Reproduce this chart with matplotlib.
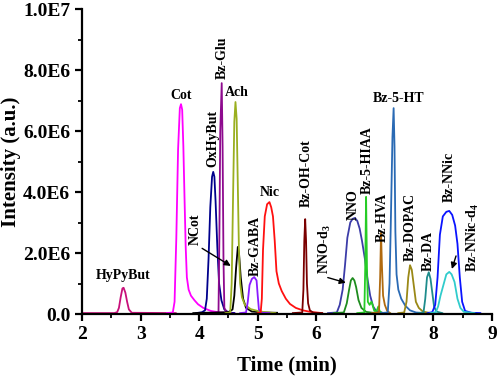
#                               IMPORT LIBRARIES
import matplotlib
matplotlib.use("Agg")
import matplotlib.pyplot as plt
from matplotlib.ticker import MultipleLocator, FuncFormatter

plt.rcParams['font.family'] = 'Liberation Serif'
plt.rcParams['font.weight'] = 'bold'
plt.rcParams['mathtext.fontset'] = 'custom'
plt.rcParams['mathtext.rm'] = 'Liberation Serif:bold'
plt.rcParams['mathtext.bf'] = 'Liberation Serif:bold'
plt.rcParams['mathtext.default'] = 'rm'

#                               DATA (time in min, intensity in 1E6)
HyPyBut_t = [2.0, 2.55, 2.60, 2.63, 2.66, 2.69, 2.71, 2.74, 2.77, 2.80, 2.85, 3.6]
HyPyBut_y = [0.03, 0.03, 0.06, 0.2, 0.55, 0.84, 0.86, 0.7, 0.4, 0.15, 0.04, 0.03]

Cot_t = [3.45, 3.55, 3.58, 3.61, 3.64, 3.67, 3.69, 3.71, 3.73, 3.75, 3.77, 3.79, 3.82, 3.86,
         3.92, 3.98, 4.07, 4.2, 4.35, 4.6]
Cot_y = [0.03, 0.05, 0.4, 2.5, 5.4, 6.75, 6.88, 6.7, 5.5, 3.8, 2.2, 1.2, 0.8, 0.6,
         0.45, 0.32, 0.2, 0.1, 0.05, 0.03]

OxHyBut_t = [3.95, 4.05, 4.10, 4.13, 4.16, 4.19, 4.22, 4.24, 4.26, 4.28, 4.31, 4.34, 4.38, 4.43, 4.5, 4.6]
OxHyBut_y = [0.03, 0.06, 0.12, 0.5, 1.8, 3.5, 4.5, 4.66, 4.5, 3.7, 2.2, 1.0, 0.45, 0.15, 0.05, 0.03]

BzGlu_t = [4.25, 4.33, 4.345, 4.36, 4.385, 4.40, 4.415, 4.43, 4.47, 4.55]
BzGlu_y = [0.03, 0.05, 2.5, 6.0, 7.57, 5.5, 1.8, 0.2, 0.05, 0.03]

Ach_t = [4.45, 4.53, 4.555, 4.58, 4.60, 4.62, 4.64, 4.66, 4.68, 4.70, 4.73, 4.78, 4.88, 5.0, 5.12, 5.3]
Ach_y = [0.03, 0.05, 1.0, 4.0, 6.3, 6.95, 6.4, 4.2, 2.0, 1.0, 0.55, 0.3, 0.16, 0.1, 0.06, 0.03]

NCot_t = [3.9, 4.3, 4.5, 4.57, 4.60, 4.63, 4.66, 4.68, 4.71, 4.75, 4.80, 4.9, 5.1, 5.33]
NCot_y = [0.03, 0.05, 0.06, 0.15, 0.6, 1.5, 2.2, 2.0, 1.2, 0.5, 0.2, 0.08, 0.05, 0.04]

BzGABA_t = [4.7, 4.80, 4.83, 4.86, 4.90, 4.94, 4.98, 5.00, 5.02, 5.06, 5.2]
BzGABA_y = [0.03, 0.05, 0.4, 0.95, 1.15, 1.21, 1.1, 0.6, 0.15, 0.04, 0.03]

Nic_t = [5.0, 5.05, 5.07, 5.09, 5.12, 5.16, 5.20, 5.23, 5.26, 5.29, 5.32, 5.36, 5.41, 5.48,
         5.55, 5.65, 5.77, 5.9, 6.1]
Nic_y = [0.03, 0.05, 0.5, 2.1, 3.2, 3.6, 3.67, 3.5, 3.2, 2.4, 1.4, 1.0, 0.75, 0.5,
         0.33, 0.2, 0.12, 0.07, 0.03]

BzOHCot_t = [5.6, 5.76, 5.78, 5.795, 5.81, 5.825, 5.84, 5.86, 5.89, 5.95, 6.1]
BzOHCot_y = [0.03, 0.05, 0.8, 2.4, 3.11, 2.4, 1.0, 0.35, 0.12, 0.04, 0.03]

NNO_t = [6.2, 6.35, 6.40, 6.45, 6.49, 6.53, 6.58, 6.62, 6.66, 6.70, 6.74, 6.78, 6.83, 6.87,
         6.92, 6.97, 7.02, 7.15]
NNO_y = [0.03, 0.05, 0.3, 0.8, 1.6, 2.5, 3.0, 3.12, 3.15, 3.05, 2.8, 2.4, 1.8, 1.2,
         0.6, 0.25, 0.1, 0.03]

NNOd3_t = [6.3, 6.47, 6.52, 6.56, 6.59, 6.62, 6.65, 6.68, 6.72, 6.77, 6.85, 7.0]
NNOd3_y = [0.03, 0.05, 0.35, 0.8, 1.1, 1.18, 1.1, 0.88, 0.46, 0.2, 0.07, 0.03]

BzHIAA_t = [6.7, 6.82, 6.835, 6.85, 6.865, 6.88, 6.91, 6.94, 6.96, 6.99, 7.03, 7.06, 7.08, 7.12, 7.25]
BzHIAA_y = [0.03, 0.05, 1.5, 3.84, 1.5, 0.4, 0.3, 0.4, 0.3, 0.1, 0.1, 0.25, 0.1, 0.03, 0.03]

BzHVA_t = [6.95, 7.07, 7.09, 7.105, 7.12, 7.14, 7.17, 7.21, 7.26]
BzHVA_y = [0.03, 0.05, 1.2, 2.66, 1.6, 0.6, 0.3, 0.1, 0.03]

BzHT_t = [7.1, 7.22, 7.25, 7.27, 7.30, 7.32, 7.335, 7.35, 7.37, 7.40, 7.45, 7.52, 7.6, 7.7, 7.85]
BzHT_y = [0.03, 0.05, 1.0, 2.8, 5.8, 6.75, 5.5, 2.7, 1.3, 0.8, 0.5, 0.27, 0.12, 0.05, 0.03]

BzDOPAC_t = [7.4, 7.50, 7.54, 7.57, 7.60, 7.63, 7.66, 7.70, 7.75, 7.82, 7.95]
BzDOPAC_y = [0.03, 0.05, 0.4, 1.2, 1.6, 1.45, 1.0, 0.4, 0.2, 0.08, 0.03]

BzDA_t = [7.75, 7.83, 7.86, 7.89, 7.92, 7.95, 7.98, 8.01, 8.05, 8.15]
BzDA_y = [0.03, 0.05, 0.5, 1.2, 1.37, 1.15, 0.7, 0.25, 0.08, 0.03]

BzNNic_t = [7.9, 7.98, 8.03, 8.07, 8.11, 8.16, 8.22, 8.27, 8.32, 8.37, 8.41, 8.45, 8.49, 8.54, 8.65, 8.8]
BzNNic_y = [0.03, 0.06, 0.3, 1.2, 2.6, 3.2, 3.35, 3.38, 3.25, 2.9, 2.3, 1.2, 0.4, 0.1, 0.04, 0.03]

BzNNicd4_t = [7.95, 8.04, 8.08, 8.12, 8.17, 8.22, 8.27, 8.31, 8.36, 8.41, 8.46, 8.52, 8.7]
BzNNicd4_y = [0.03, 0.06, 0.25, 0.6, 0.95, 1.3, 1.38, 1.3, 1.05, 0.5, 0.2, 0.07, 0.03]

traces = [
    (HyPyBut_t, HyPyBut_y, '#C8107A'),
    (Cot_t, Cot_y, '#FF00FF'),
    (OxHyBut_t, OxHyBut_y, '#00008C'),
    (BzGlu_t, BzGlu_y, '#8E0A8E'),
    (NCot_t, NCot_y, '#000000'),
    (Ach_t, Ach_y, '#9AAF1F'),
    (BzGABA_t, BzGABA_y, '#8A1AFF'),
    (Nic_t, Nic_y, '#FF1010'),
    (BzOHCot_t, BzOHCot_y, '#7A0000'),
    (NNO_t, NNO_y, '#3C3CA8'),
    (NNOd3_t, NNOd3_y, '#1E8C1E'),
    (BzHIAA_t, BzHIAA_y, '#26CC26'),
    (BzHVA_t, BzHVA_y, '#B06A10'),
    (BzHT_t, BzHT_y, '#2A6AB4'),
    (BzDOPAC_t, BzDOPAC_y, '#9A8816'),
    (BzDA_t, BzDA_y, '#1E8C8C'),
    (BzNNic_t, BzNNic_y, '#0A14FF'),
    (BzNNicd4_t, BzNNicd4_y, '#30CCCC'),
]

# labels: (text, time, intensity(1E6), rotation)
labels = [
    ('HyPyBut', 2.71, 1.26, 0),
    ('Cot', 3.69, 7.15, 0),
    ('Ach', 4.65, 7.25, 0),
    ('Nic', 5.21, 4.0, 0),
    ('Bz-5-HT', 7.40, 7.05, 0),
    ('OxHyBut', 4.24, 5.74, 90),
    ('Bz-Glu', 4.39, 8.39, 90),
    ('NCot', 3.93, 2.79, 90),
    ('Bz-GABA', 4.95, 2.23, 90),
    ('Bz-OH-Cot', 5.83, 4.62, 90),
    ('NNO-d$_3$', 6.15, 2.13, 90),
    ('NNO', 6.63, 3.6, 90),
    ('Bz-5-HIAA', 6.87, 5.05, 90),
    ('Bz-HVA', 7.12, 3.15, 90),
    ('Bz-DOPAC', 7.60, 2.85, 90),
    ('Bz-DA', 7.91, 2.07, 90),
    ('Bz-NNic', 8.27, 4.5, 90),
    ('Bz-NNic-d$_4$', 8.68, 2.52, 90),
]

# arrows: (start t, start y, end t, end y)
arrows = [
    (4.01, 2.2, 4.58, 1.53),
    (6.15, 1.22, 6.55, 1.0),
    (8.40, 1.99, 8.30, 1.39),
]

#                               PLOT
fig = plt.figure(figsize=(4.98, 3.77), dpi=100)
ax = fig.add_axes([0.1647, 0.1671, 0.8233, 0.809])

for t, y, c in traces:
    ax.plot(t, [v * 1e6 for v in y], color=c, lw=1.3)

for txt, t, y, rot in labels:
    ax.text(t, y * 1e6, txt, rotation=rot, ha='center', va='center', fontsize=10, fontweight='bold')

for x0, y0, x1, y1 in arrows:
    ax.annotate('', xy=(x1, y1 * 1e6), xytext=(x0, y0 * 1e6),
                arrowprops=dict(arrowstyle='-|>', color='black', lw=1, mutation_scale=9))

ax.set_xlim(2, 9)
ax.set_ylim(0, 1e7)
ax.xaxis.set_major_locator(MultipleLocator(1))
ax.xaxis.set_minor_locator(MultipleLocator(0.5))
ax.yaxis.set_major_locator(MultipleLocator(2e6))
ax.yaxis.set_minor_locator(MultipleLocator(1e6))


def fmt(v, pos):
    if v == 0:
        return '0.0'
    e = len(str(int(v))) - 1
    return '%.1fE%d' % (v / 10 ** e, e)


ax.yaxis.set_major_formatter(FuncFormatter(fmt))
ax.spines['top'].set_visible(False)
ax.spines['right'].set_visible(False)
ax.spines['left'].set_linewidth(1.6)
ax.spines['bottom'].set_linewidth(1.6)
ax.tick_params(which='major', direction='out', length=5, width=1.6, labelsize=14)
ax.tick_params(which='minor', direction='out', length=3, width=1.3)
ax.set_xlabel('Time (min)', fontsize=15, fontweight='bold')
ax.set_ylabel('Intensity (a.u.)', fontsize=15, fontweight='bold')
ax.xaxis.set_label_coords(0.5, -0.135)
ax.yaxis.set_label_coords(-0.148, 0.5)

plt.savefig('out.png', dpi=100)
